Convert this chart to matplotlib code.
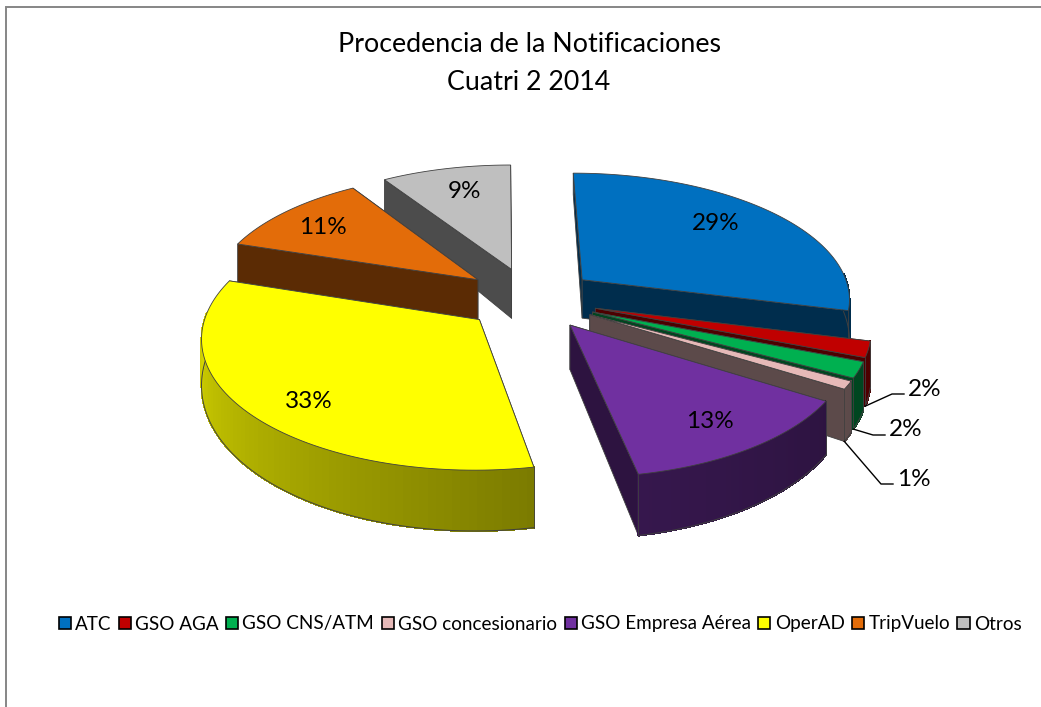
import numpy as np
import matplotlib
matplotlib.use('Agg')
import matplotlib.pyplot as plt
from matplotlib.patches import Polygon, Patch

plt.rcParams['font.family'] = ['Lato', 'DejaVu Sans']

categories = ['ATC', 'GSO AGA', 'GSO CNS/ATM', 'GSO concesionario',
              'GSO Empresa Aérea', 'OperAD', 'TripVuelo', 'Otros']
values = [29, 2, 2, 1, 13, 33, 11, 9]
colors = ['#0070C0', '#C00000', '#00B050', '#E6B9B8',
          '#7030A0', '#FFFF00', '#E36C09', '#BFBFBF']

# pie geometry, in pixels of the picture
cx, cy = 530.5, 298.5
rx, ry = 269, 125
persp = 0.13
shear = 3
explode = 0.25
extra_depth = {7: 12, 6: 5}
label_shift = {0: (-10, -4), 4: (8, 7), 5: (-3, 13), 6: (-9, 0), 7: (4, 0)}
outside = {1: (908, 389), 2: (889, 430), 3: (897, 479)}


def project(u, v):
    s = 1 / (1 + persp * v)
    return cx + rx * u * s - shear * v, cy - ry * v * s


def depth(v):
    return 41 - 17 * v


def bottom(u, v, extra=0):
    x, y = project(u, v)
    return x, y + depth(v) + extra


def darker(color, f):
    r, g, b = matplotlib.colors.to_rgb(color)
    return (r * f, g * f, b * f)


def rim_shade(deg):
    # light on the left of the pie, dark towards the front right
    return np.interp(deg, [120, 168, 290], [0.4, 0.48, 0.9])


fig = plt.figure(figsize=(10.41, 7.07), dpi=100)
ax = fig.add_axes([0, 0, 1, 1])
ax.set_xlim(0, 1041)
ax.set_ylim(707, 0)
ax.axis('off')

# frame of the chart
ax.plot([5.5, 5.5, 1041], [707, 6.5, 6.5], color='#868686', lw=1.4, solid_joinstyle='miter')

edges = np.cumsum([0] + values) / sum(values) * 360
order = [7, 6, 0, 1, 2, 3, 4, 5]
edge = '#404040'
z = 2

for i in order:
    a0, a1 = np.radians(edges[i]), np.radians(edges[i + 1])
    mid = (a0 + a1) / 2
    ox, oy = explode * np.sin(mid), explode * np.cos(mid)
    extra = extra_depth.get(i, 0)
    t = np.linspace(a0, a1, 80)
    us = ox + np.sin(t)
    vs = oy + np.cos(t)
    wall = darker(colors[i], 0.4)

    # radial faces, the one further back first
    for a in sorted((a0, a1), key=lambda b: -np.cos(b)):
        u, v = ox + np.sin(a), oy + np.cos(a)
        pts = [project(ox, oy), project(u, v), bottom(u, v, extra), bottom(ox, oy, extra)]
        ax.add_patch(Polygon(pts, facecolor=wall, edgecolor=edge, lw=0.6, zorder=z))
        z += 1

    # outer wall in narrow strips, only the part that faces the viewer
    front = [k for k in range(len(t) - 1) if np.cos(t[k]) < 0.05]
    for k in front:
        pts = [project(us[k], vs[k]), project(us[k + 1], vs[k + 1]),
               bottom(us[k + 1], vs[k + 1], extra), bottom(us[k], vs[k], extra)]
        c = darker(colors[i], rim_shade(np.degrees(t[k])))
        ax.add_patch(Polygon(pts, facecolor=c, edgecolor=c, lw=0.8, antialiased=False, zorder=z))
        z += 1
    if front:
        idx = front + [front[-1] + 1]
        low = [bottom(us[k], vs[k], extra) for k in idx]
        ax.plot([p[0] for p in low], [p[1] for p in low], color=edge, lw=0.7, zorder=z)
        z += 1
        for k in (idx[0], idx[-1]):
            if min(abs(t[k] - a0), abs(t[k] - a1)) < 1e-6:
                p, q = project(us[k], vs[k]), bottom(us[k], vs[k], extra)
                ax.plot([p[0], q[0]], [p[1], q[1]], color=edge, lw=0.6, zorder=z)
        z += 1

    # top face
    pts = [project(ox, oy)] + [project(p, q) for p, q in zip(us, vs)]
    ax.add_patch(Polygon(pts, facecolor=colors[i], edgecolor=edge, lw=0.6, zorder=z))
    z += 1

# percentage labels
z += 1
label_r = 0.75
for i, val in enumerate(values):
    a1 = np.radians(edges[i + 1])
    mid = np.radians((edges[i] + edges[i + 1]) / 2)
    ox, oy = explode * np.sin(mid), explode * np.cos(mid)
    if i in outside:
        # leader line from the foot of the wall to the label
        x0, y0 = bottom(ox + np.sin(a1), oy + np.cos(a1))
        lx, ly = outside[i]
        ax.plot([x0, lx - 16, lx - 4], [y0, ly + 5, ly + 5], color='black', lw=1, zorder=z)
        ax.text(lx, ly, f'{val}%', fontsize=17.5, ha='left', va='center', zorder=z)
    else:
        x, y = project(ox + label_r * np.sin(mid), oy + label_r * np.cos(mid))
        sx, sy = label_shift.get(i, (0, 0))
        ax.text(x + sx, y + sy, f'{val}%', fontsize=17.5, ha='center', va='center', zorder=z)

ax.text(529, 45, 'Procedencia de la Notificaciones', fontsize=19.3, ha='center', va='center')
ax.text(529, 83, 'Cuatri 2 2014', fontsize=19.3, ha='center', va='center')

handles = [Patch(facecolor=c, edgecolor='black', lw=1.2) for c in colors]
ax.legend(handles, categories, ncol=8, loc='center', bbox_to_anchor=(540 / 1041, 1 - 624 / 707),
          frameon=False, fontsize=13.6, handlelength=0.64, handleheight=0.64,
          handletextpad=0.22, columnspacing=0.4, borderpad=0, borderaxespad=0)

fig.savefig('out.png', dpi=100)
